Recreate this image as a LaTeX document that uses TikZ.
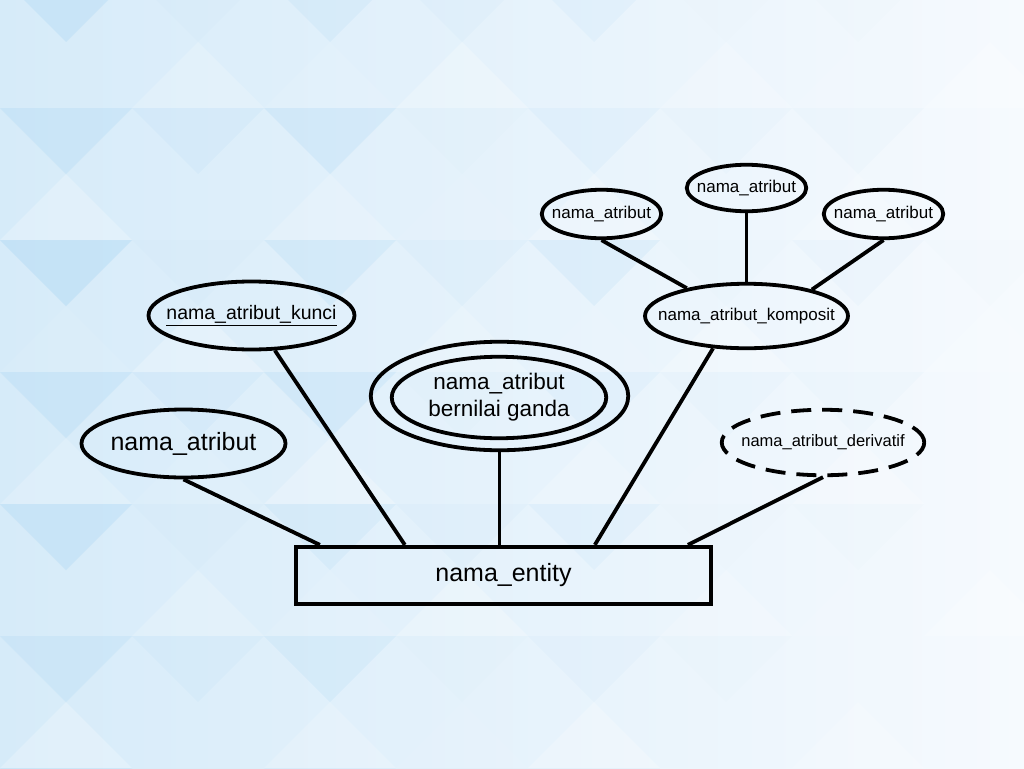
\documentclass[tikz,border=0pt]{standalone}
\usepackage{fontspec}
\setmainfont{Liberation Sans}
\usetikzlibrary{shapes.geometric}

\definecolor{latarkiri}{RGB}{214,235,249}
\definecolor{latarkanan}{RGB}{246,250,254}
\definecolor{segitiga}{RGB}{140,200,240}

\tikzset{
    atribut/.style={draw, ellipse, line width=3.8pt, inner sep=0pt},
    entitas/.style={draw, rectangle, line width=3.8pt},
    garis/.style={line width=3.8pt},
}

\begin{document}
\begin{tikzpicture}[x=1pt, y=-1pt]
    \def\teks#1{\makebox[0pt]{#1}}
    \def\besar{\fontsize{25}{30}\selectfont}
    \def\kecil{\fontsize{17}{20}\selectfont}

    \useasboundingbox (0,0) rectangle (1024,768);

    %latar
    \shade[left color=latarkiri, right color=latarkanan] (0,0) rectangle (1024,768);
    \foreach \i in {0,...,7} {
        \foreach \j in {0,...,6} {
            \pgfmathsetmacro{\f}{{1,0.45,0.8,0.15}[mod(3*\i+2*\j,4)]}
            \pgfmathsetmacro{\op}{\f*max(0, 0.24 - 0.03*\i - 0.02*abs(\j-2))}
            \fill[segitiga, opacity=\op]
                (132*\i,-24+132*\j) -- (132*\i+132,-24+132*\j) -- (132*\i+66,42+132*\j) -- cycle;
            \pgfmathsetmacro{\g}{{0,0.5,0.2,0.7}[mod(\i+3*\j,4)]}
            \fill[white, opacity=\g*0.35]
                (132*\i,108+132*\j) -- (132*\i+132,108+132*\j) -- (132*\i+66,42+132*\j) -- cycle;
        }
    }

    %entitas
    \node[entitas, minimum width=415.5, minimum height=57.5, font=\besar] (ent) at (503.5,575.5) {nama\_entity};

    %atribut
    \node[atribut, minimum width=204, minimum height=68, font=\besar] (atr) at (183.5,443.5) {\teks{nama\_atribut}};
    \node[atribut, minimum width=206, minimum height=68, font=\fontsize{19.5}{23}\selectfont] (kunci) at (251.5,315.5) {\teks{\underline{nama\_atribut\_kunci}}};
    \node[atribut, minimum width=257.5, minimum height=108.5] (luar) at (499.5,396) {};
    \node[atribut, minimum width=214.5, minimum height=81.5, align=center, font=\fontsize{22.5}{27}\selectfont] (ganda) at (499,397.5) {nama\_atribut\\bernilai ganda};
    \node[atribut, minimum width=203, minimum height=64.5, font=\kecil] (komp) at (746.5,316) {\teks{nama\_atribut\_komposit}};
    \node[atribut, dash pattern=on 20pt off 11pt, minimum width=202.5, minimum height=65.5, font=\fontsize{16.5}{20}\selectfont] (der) at (823,442.5) {\teks{nama\_atribut\_derivatif}};

    %bagian komposit
    \foreach \nama/\x/\y/\tinggi in {k1/601.5/214/48.5, k2/746.5/188/46.5, k3/883.5/214/48.5} {
        \node[atribut, minimum width=119.5, minimum height=\tinggi, font=\kecil] (\nama) at (\x,\y) {\teks{nama\_atribut}};
    }

    %garis
    \draw[garis] (atr.south) -- ([xshift=26pt]ent.north west);
    \draw[garis] (kunci) -- ([xshift=111pt]ent.north west);
    \draw[garis] (luar.south) -- (luar.south |- ent.north);
    \draw[garis] (komp.-136) -- ([xshift=301pt]ent.north west);
    \draw[garis] (der.south) -- ([xshift=394pt]ent.north west);
    \draw[garis] (k1.south) -- (komp.155);
    \draw[garis] (k2.south) -- (komp.north);
    \draw[garis] (k3.south) -- (komp.22);
\end{tikzpicture}
\end{document}
